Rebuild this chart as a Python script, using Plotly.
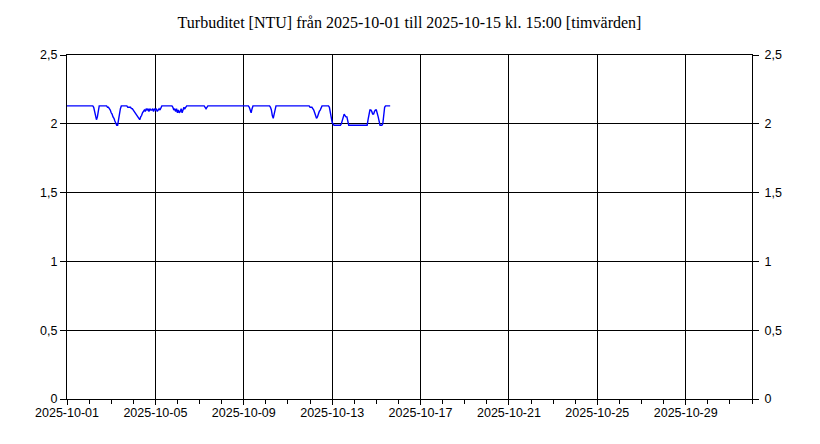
import pandas as pd
import plotly.graph_objects as go

start = "2025-10-01 00:00"
# Hourly turbidity values [NTU], one list per day (Oct 1 .. Oct 15 15:00)
day01 = [2.13] * 24
day02 = [2.13, 2.13, 2.13, 2.13, 2.13, 2.12, 2.09, 2.05, 2.03, 2.05, 2.10, 2.13,
         2.13, 2.13, 2.13, 2.13, 2.13, 2.13, 2.13, 2.13, 2.12, 2.12, 2.11, 2.10]
day03 = [2.08, 2.07, 2.05, 2.04, 2.02, 2.00, 1.99, 1.99, 2.02, 2.07, 2.11, 2.13,
         2.13, 2.13, 2.13, 2.13, 2.13, 2.13, 2.12, 2.12, 2.12, 2.12, 2.11, 2.11]
day04 = [2.10, 2.09, 2.08, 2.07, 2.06, 2.05, 2.04, 2.03, 2.05, 2.06, 2.08, 2.09,
         2.10, 2.09, 2.11, 2.10, 2.11, 2.09, 2.11, 2.10, 2.10, 2.11, 2.09, 2.11]
day05 = [2.10, 2.11, 2.09, 2.10, 2.11, 2.10, 2.12, 2.13, 2.13, 2.13, 2.13, 2.13,
         2.13, 2.13, 2.13, 2.13, 2.13, 2.13, 2.13, 2.12, 2.10, 2.11, 2.09, 2.11]
day06 = [2.08, 2.10, 2.08, 2.09, 2.11, 2.08, 2.10, 2.12, 2.11, 2.12, 2.13, 2.13,
         2.13, 2.13, 2.13, 2.13, 2.13, 2.13, 2.13, 2.13, 2.13, 2.13, 2.13, 2.13]
day07 = [2.13, 2.13, 2.13, 2.13, 2.13, 2.13, 2.12, 2.11, 2.12, 2.13, 2.13, 2.13,
         2.13, 2.13, 2.13, 2.13, 2.13, 2.13, 2.13, 2.13, 2.13, 2.13, 2.13, 2.13]
day08 = [2.13] * 24
day09 = [2.13, 2.13, 2.13, 2.13, 2.13, 2.13, 2.12, 2.10, 2.08, 2.11, 2.13, 2.13,
         2.13, 2.13, 2.13, 2.13, 2.13, 2.13, 2.13, 2.13, 2.13, 2.13, 2.13, 2.13]
day10 = [2.13, 2.13, 2.13, 2.13, 2.13, 2.12, 2.10, 2.06, 2.04, 2.07, 2.11, 2.13,
         2.13, 2.13, 2.13, 2.13, 2.13, 2.13, 2.13, 2.13, 2.13, 2.13, 2.13, 2.13]
day11 = [2.13] * 24
day12 = [2.12, 2.12, 2.12, 2.11, 2.10, 2.08, 2.06, 2.04, 2.05, 2.08, 2.09, 2.10,
         2.12, 2.13, 2.13, 2.13, 2.13, 2.13, 2.13, 2.13, 2.13, 2.12, 2.07, 2.03]
day13 = [2.01, 2.00, 1.99, 1.99, 1.99, 1.99, 1.99, 1.99, 1.99, 1.99, 2.00, 2.02,
         2.05, 2.07, 2.06, 2.05, 2.05, 2.02, 1.99, 1.99, 1.99, 1.99, 1.99, 1.99]
day14 = [1.99, 1.99, 1.99, 1.99, 1.99, 1.99, 1.99, 1.99, 1.99, 1.99, 1.99, 1.99,
         1.99, 1.99, 1.99, 2.03, 2.08, 2.10, 2.10, 2.09, 2.07, 2.07, 2.09, 2.10]
day15 = [2.10, 2.08, 2.05, 2.02, 1.99, 1.99, 1.99, 2.00, 2.06, 2.12, 2.13, 2.13,
         2.13, 2.13, 2.13, 2.13]

values = (day01 + day02 + day03 + day04 + day05 + day06 + day07 + day08 +
          day09 + day10 + day11 + day12 + day13 + day14 + day15)
times = pd.date_range(start, periods=len(values), freq="h")

title_text = "Turbuditet [NTU] från 2025-10-01 till 2025-10-15 kl. 15:00 [timvärden]"
x_range = ["2025-10-01 00:00", "2025-11-01 00:00"]
y_range = [0, 2.5]
y_ticks = [0, 0.5, 1, 1.5, 2, 2.5]

fig = go.Figure()
fig.add_trace(go.Scatter(x=times, y=values, mode="lines",
                         line=dict(color="#0000ff", width=1.4),
                         showlegend=False, hoverinfo="x+y"))
fig.add_trace(go.Scatter(x=times, y=values, mode="lines", yaxis="y2",
                         line=dict(color="rgba(0,0,0,0)", width=0),
                         showlegend=False, hoverinfo="skip"))

tick_font = dict(family="Liberation Sans, Arial, sans-serif", size=12.5, color="#000000")

# page body has an 8px default margin; figure sized to fit the 820x444 window
fig.update_layout(
    width=812, height=436,
    margin=dict(l=59, r=68, t=47, b=45),
    paper_bgcolor="white", plot_bgcolor="white",
    separators=", ",
    title=dict(text=title_text, x=0.5, xanchor="center", xref="paper",
               y=1 - 14 / 436, yanchor="middle", yref="container",
               font=dict(family="Liberation Serif, Times New Roman, serif",
                         size=16, color="#000000")),
    xaxis=dict(type="date", range=x_range,
               tick0="2025-10-01", dtick=4 * 86400000, tickformat="%Y-%m-%d",
               ticks="outside", ticklen=5, tickcolor="#000000", tickwidth=1,
               ticklabelstandoff=-3,
               showgrid=True, gridcolor="#000000", gridwidth=1,
               showline=True, linecolor="#000000", linewidth=1, mirror=True,
               zeroline=False, tickfont=tick_font,
               minor=dict(dtick=86400000, tick0="2025-10-01", ticks="outside",
                          ticklen=4, tickcolor="#000000", showgrid=False)),
    yaxis=dict(range=y_range, tickvals=y_ticks,
               ticks="outside", ticklen=6, tickcolor="#000000",
               showgrid=True, gridcolor="#000000", gridwidth=1,
               showline=True, linecolor="#000000", linewidth=1, mirror=True,
               zeroline=False, tickfont=tick_font),
    yaxis2=dict(range=y_range, tickvals=y_ticks, overlaying="y", side="right",
                ticks="outside", ticklen=6, tickcolor="#000000",
                ticklabelstandoff=3,
                showgrid=False, zeroline=False, showline=False,
                tickfont=tick_font),
)

fig.write_html("out.html")
